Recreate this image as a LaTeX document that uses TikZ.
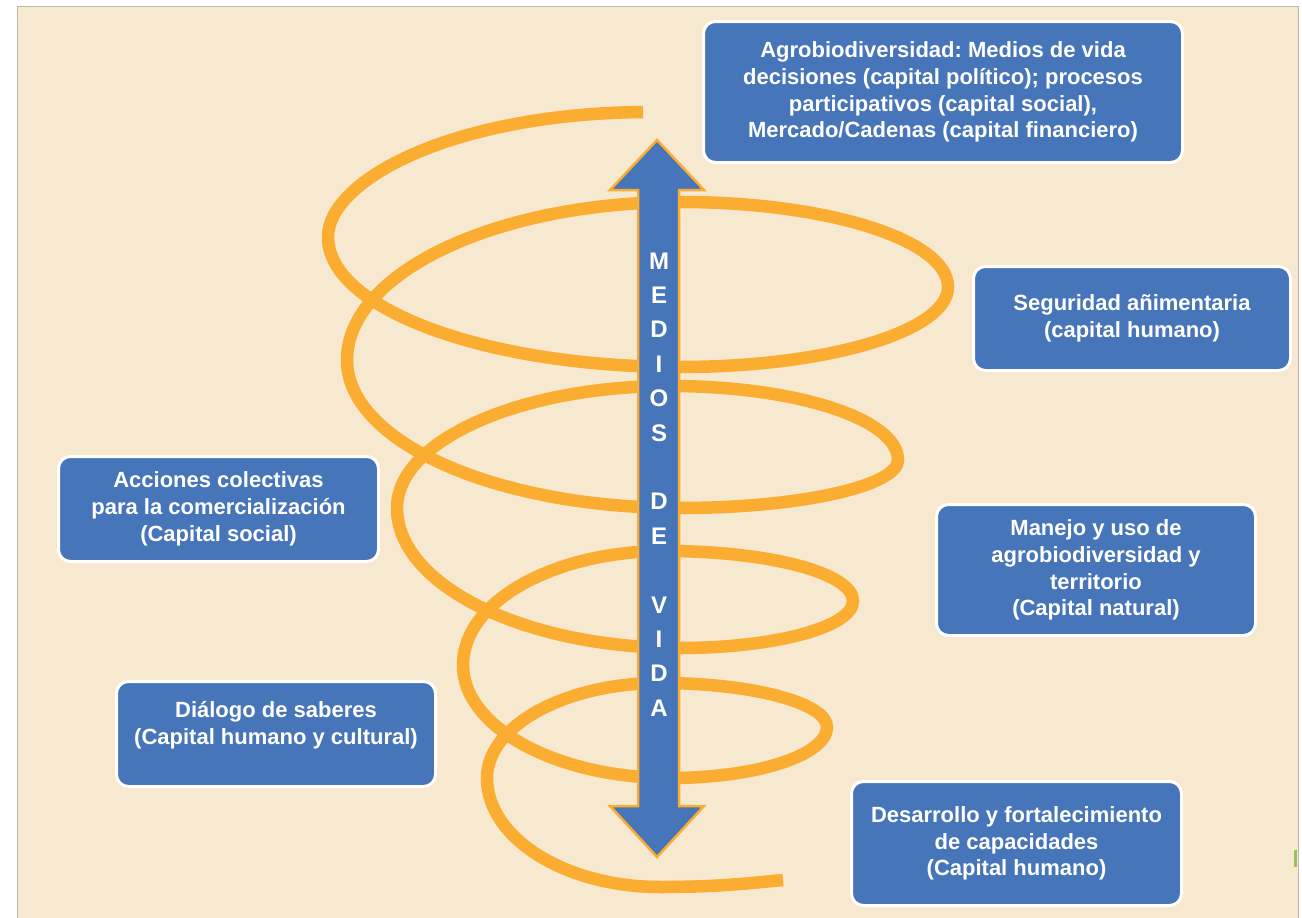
\documentclass[tikz,border=0pt]{standalone}
\usepackage{fontspec}
\setmainfont{Liberation Sans}
\frenchspacing
\definecolor{bg}{RGB}{247,232,208}
\definecolor{boxblue}{RGB}{71,117,186}
\definecolor{spiralor}{RGB}{251,173,49}
\definecolor{edgegray}{RGB}{190,184,176}
\definecolor{markgreen}{RGB}{150,195,90}
\tikzset{
  box/.style={draw=white, line width=3pt, fill=boxblue, rounded corners=12pt,
    inner sep=0pt, align=center, text=white,
    font=\fontsize{22}{26.8}\selectfont\bfseries},
  boxtext/.style={inner sep=0pt, align=center, text=white,
    font=\fontsize{22}{26.8}\selectfont\bfseries},
  spiral/.style={draw=spiralor, line width=12.5pt},
  bigarrow/.style={fill=boxblue, draw=spiralor, line width=2.5pt, line join=miter},
  arrowtext/.style={text=white, font=\fontsize{24}{34.4}\selectfont\bfseries,
    align=center, inner sep=0pt}
}
\begin{document}
\begin{tikzpicture}[x=1pt,y=-1pt]
\useasboundingbox (0,0) rectangle (1302,918);
% background panel
\fill[bg] (17.5,6.5) rectangle (1298,918);
\draw[edgegray, line width=1pt] (17.5,918) -- (17.5,6.5) -- (1298,6.5) -- (1298,918);
\fill[markgreen] (1294,850) rectangle (1296.5,867);

% spiral
\draw[spiral] (643,112)
 .. controls (450,114) and (328,181) .. (328,237)
 .. controls (328,309) and (486,367) .. (680,367)
 .. controls (828,367) and (948,331) .. (948,287)
 .. controls (948,240) and (828,202) .. (680,202)
 .. controls (496,202) and (347,273) .. (347,360)
 .. controls (347,442) and (496,508) .. (680,508)
 .. controls (800,508) and (898,486) .. (898,460)
 .. controls (898,419) and (796,386) .. (670,386)
 .. controls (519,386) and (397,441) .. (397,508)
 .. controls (397,585) and (524,648) .. (680,648)
 .. controls (775,648) and (853,627) .. (853,601)
 .. controls (853,573) and (769,551) .. (665,551)
 .. controls (553,551) and (463,602) .. (463,665)
 .. controls (463,727) and (556,778) .. (670,778)
 .. controls (757,778) and (827,755) .. (827,727)
 .. controls (827,703) and (752,683) .. (660,683)
 .. controls (565,683) and (487,726) .. (487,778)
 .. controls (487,838) and (565,887) .. (660,887)
 .. controls (720,887) and (750,883) .. (783,880);

% double arrow
\draw[bigarrow] (657,140) -- (704,190) -- (679,190) -- (679,806) -- (704,806)
  -- (657,857) -- (610,806) -- (638,806) -- (638,190) -- (610,190) -- cycle;
\node[arrowtext] (mediosdevida) at (659,484.5)
  {M\\E\\D\\I\\O\\S\\\mbox{}\\D\\E\\\mbox{}\\V\\I\\D\\A};

% boxes
\node[box, minimum width=479pt, minimum height=141pt] (agro) at (943,92)
  {Agrobiodiversidad: Medios de vida\\decisiones (capital político); procesos\\participativos (capital social),\\Mercado/Cadenas (capital financiero)};
\node[box, minimum width=317pt, minimum height=104pt] (seguridad) at (1132,318.5)
  {Seguridad añimentaria\\(capital humano)};
\node[box, minimum width=320pt, minimum height=105pt] (acciones) at (218.5,509)
  {Acciones colectivas\\para la comercialización\\(Capital social)};
\node[box, minimum width=319pt, minimum height=131pt] (manejo) at (1096,570)
  {Manejo y uso de\\agrobiodiversidad y\\territorio\\(Capital natural)};
\node[box, minimum width=319pt, minimum height=105pt] (dialogo) at (276,734) {};
\node[boxtext] (dialogotext) at (276,725)
  {Diálogo de saberes\\(Capital humano y cultural)};
\node[box, minimum width=330pt, minimum height=124pt] (desarrollo) at (1016.5,843.5)
  {Desarrollo y fortalecimiento\\de capacidades\\(Capital humano)};
\end{tikzpicture}
\end{document}
